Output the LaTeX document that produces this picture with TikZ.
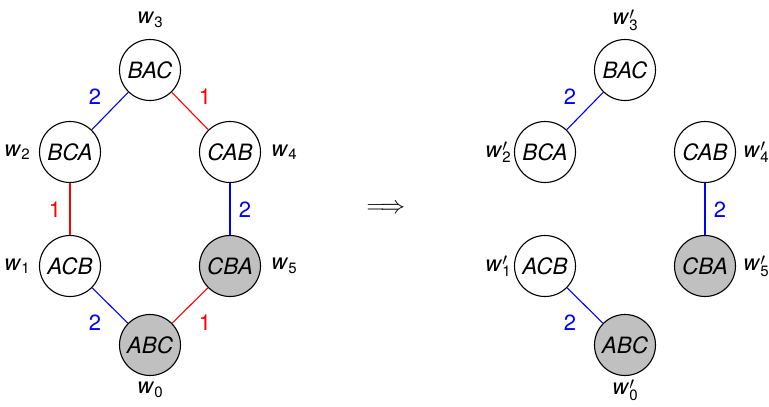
\documentclass[tikz,border=0pt]{standalone}
\usepackage{fontspec}
\setmainfont{TeX Gyre Heros}
\definecolor{nodegray}{RGB}{192,192,192}
\newcommand\wlab[1]{\textit{w}\raisebox{-0.3ex}{\fontsize{15}{15}\selectfont #1}}
\newcommand\wprm[1]{\textit{w}\makebox[0pt][l]{\raisebox{0.5ex}{\fontsize{17}{17}\selectfont$\prime$}}\raisebox{-0.45ex}{\fontsize{15}{15}\selectfont #1}}
\begin{document}
\begin{tikzpicture}[x=1pt,y=-1pt,
  every node/.style={font=\fontsize{22}{26}\selectfont,inner sep=1pt},
  st/.style={circle,draw,line width=1.1pt,minimum size=61pt,inner sep=0pt,font=\fontsize{22.5}{26}\selectfont\itshape},
  acc/.style={st,fill=nodegray},
  redge/.style={red,line width=1.1pt},
  bedge/.style={blue,line width=1.1pt},
  rl/.style={text=red},
  bl/.style={text=blue}]
\useasboundingbox (0,0) rectangle (769,407);
% left graph
\node[st]  (l3) at (150,70) {BAC};
\node[st]  (l2) at (70,152) {BCA};
\node[st]  (l4) at (230,152) {CAB};
\node[st]  (l1) at (70,266) {ACB};
\node[acc] (l5) at (230,266) {CBA};
\node[acc] (l0) at (150,345) {ABC};
\node (wl3) at (150,20) {\wlab{3}};
\node (wl2) at (17,152) {\wlab{2}};
\node (wl4) at (284,152) {\wlab{4}};
\node (wl1) at (17,266) {\wlab{1}};
\node (wl5) at (284,266) {\wlab{5}};
\node (wl0) at (150,390) {\wlab{0}};
\draw[bedge] (l3) -- (l2);
\draw[redge] (l3) -- (l4);
\draw[redge] (l2) -- (l1);
\draw[bedge] (l4) -- (l5);
\draw[bedge] (l1) -- (l0);
\draw[redge] (l5) -- (l0);
\node[bl] (e1) at (95,97) {2};
\node[rl] (e2) at (205,97) {1};
\node[rl] (e3) at (55,210) {1};
\node[bl] (e4) at (245,210) {2};
\node[bl] (e5) at (95,323) {2};
\node[rl] (e6) at (205,323) {1};
% arrow
\node[font=\fontsize{27}{30}\selectfont] (arr) at (386,209) {$\Longrightarrow$};
% right graph
\node[st]  (r3) at (625,70) {BAC};
\node[st]  (r2) at (545,152) {BCA};
\node[st]  (r4) at (705,152) {CAB};
\node[st]  (r1) at (545,266) {ACB};
\node[acc] (r5) at (705,266) {CBA};
\node[acc] (r0) at (625,345) {ABC};
\node (wr3) at (625,20) {\wprm{3}};
\node (wr2) at (498,152) {\wprm{2}};
\node (wr4) at (756,152) {\wprm{4}};
\node (wr1) at (498,266) {\wprm{1}};
\node (wr5) at (756,266) {\wprm{5}};
\node (wr0) at (625,390) {\wprm{0}};
\draw[bedge] (r3) -- (r2);
\draw[bedge] (r4) -- (r5);
\draw[bedge] (r1) -- (r0);
\node[bl] (f1) at (570,97) {2};
\node[bl] (f2) at (720,210) {2};
\node[bl] (f3) at (570,323) {2};
\end{tikzpicture}
\end{document}
